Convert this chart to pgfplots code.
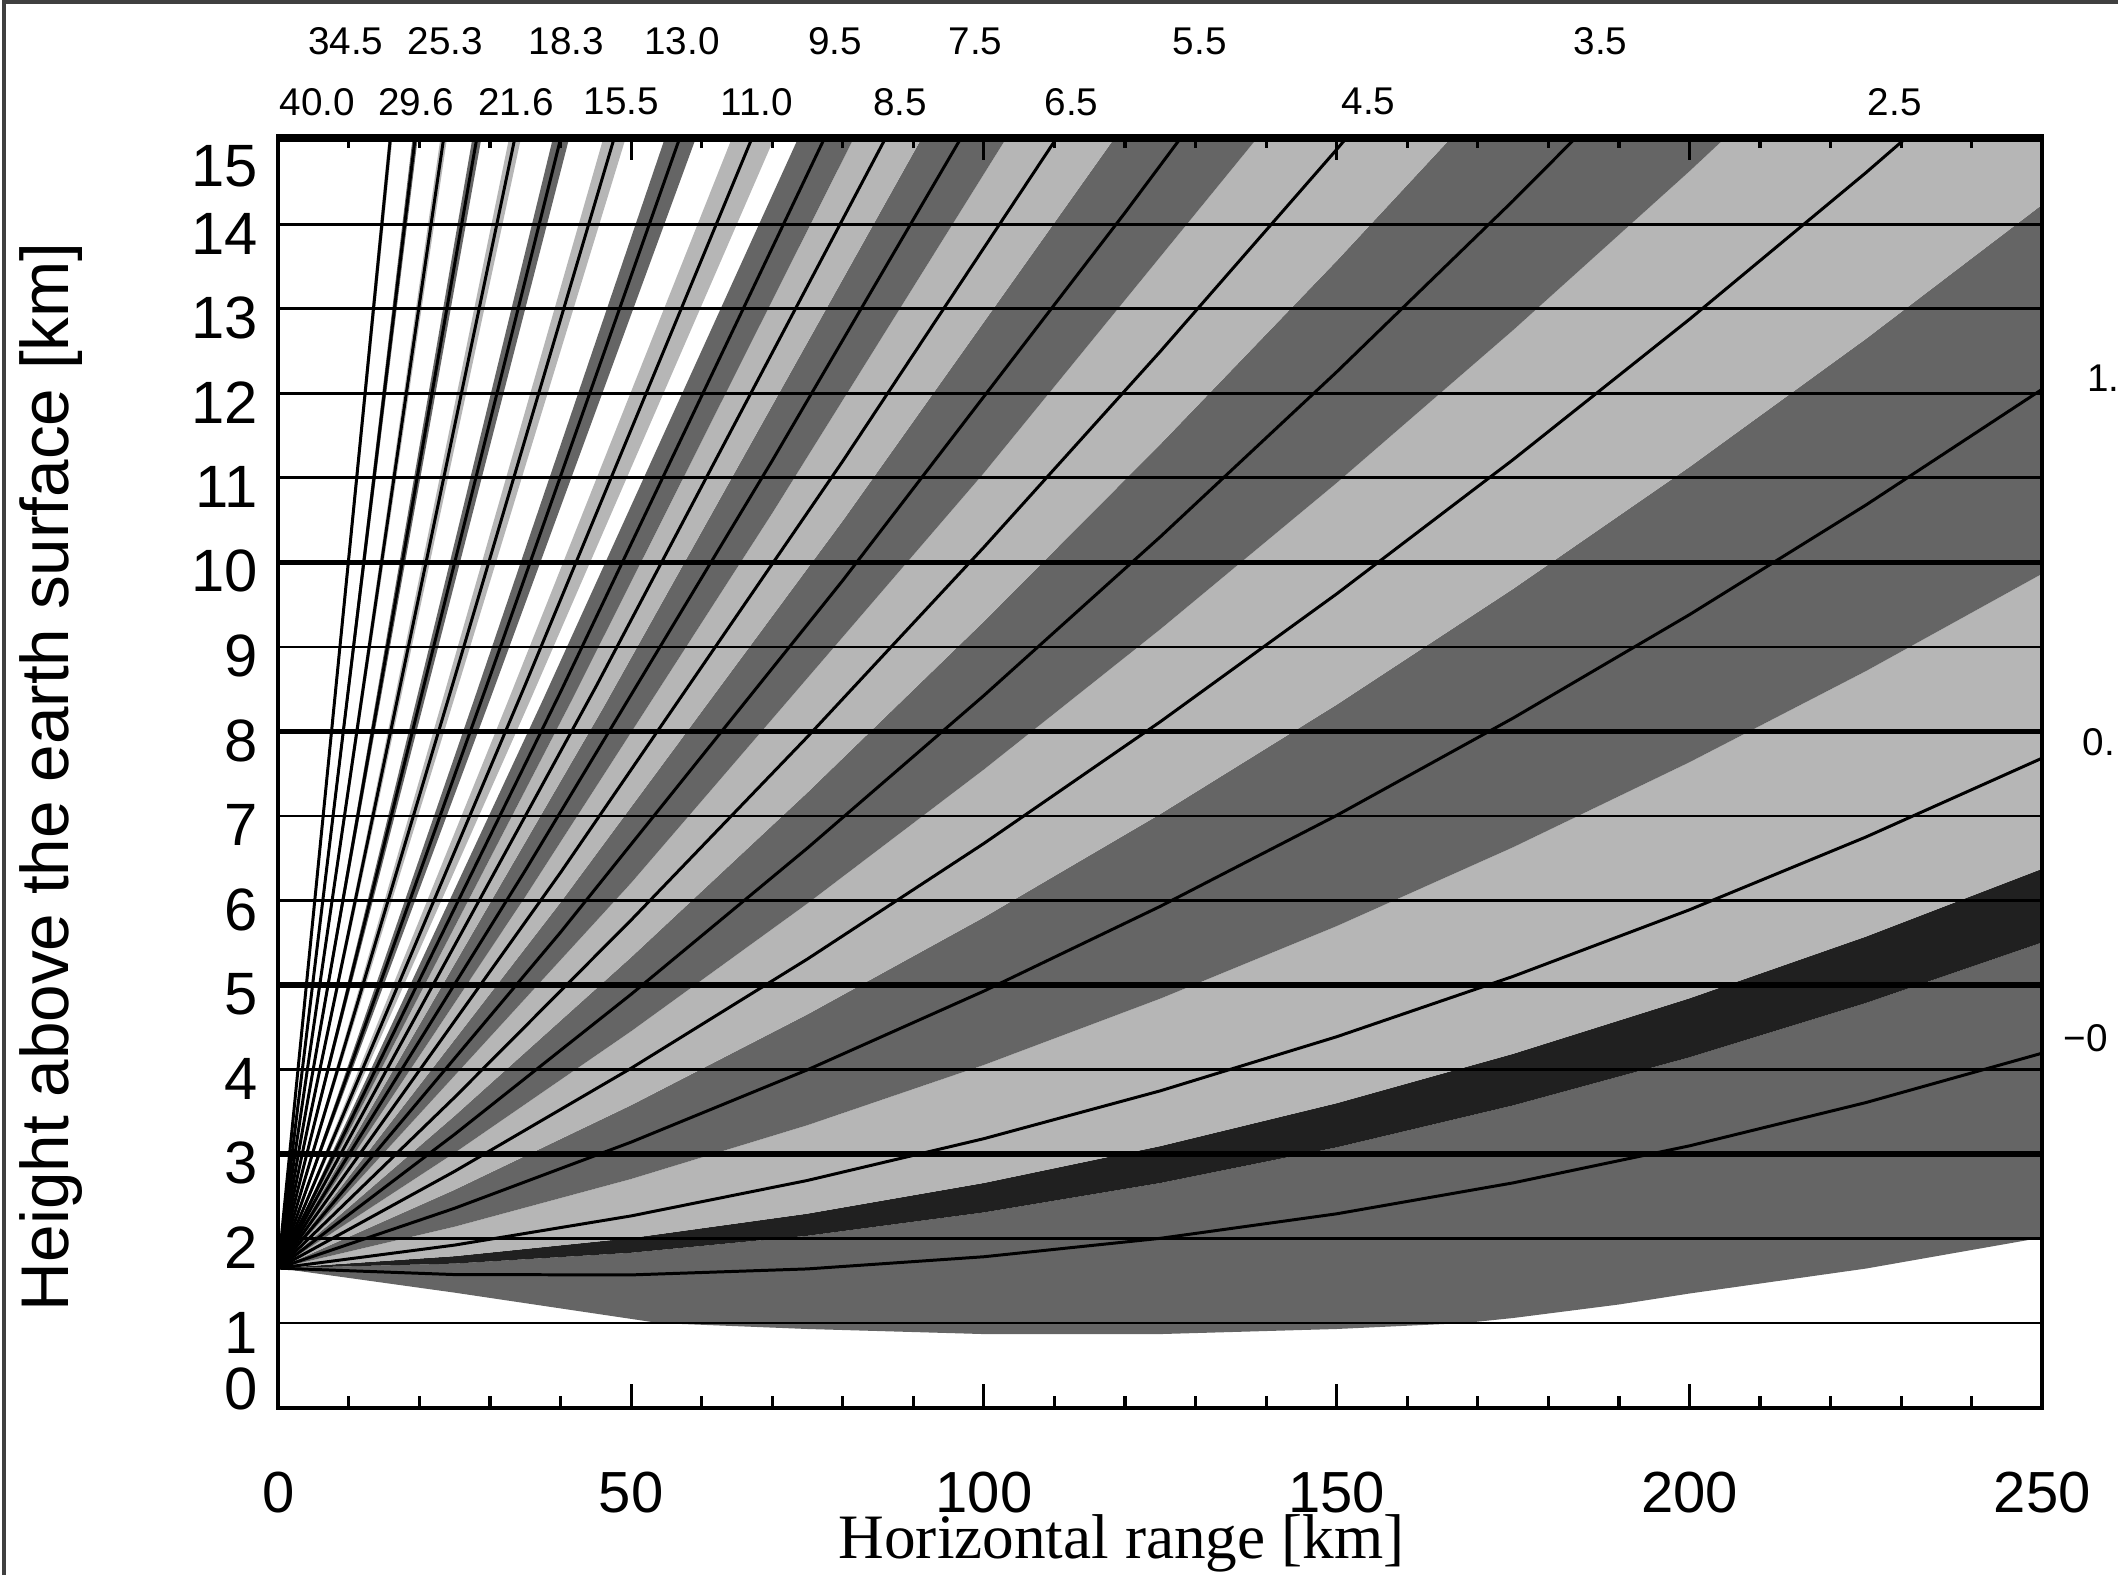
\documentclass[border=0pt]{standalone}
\usepackage{fontspec}
\setmainfont{Liberation Sans}
\newfontfamily\serifx{Liberation Serif}
\usepackage{pgfplots}
\pgfplotsset{compat=1.18}
\definecolor{lg}{HTML}{B6B6B6}
\definecolor{dg}{HTML}{656565}
\definecolor{vd}{HTML}{202020}
\newcommand{\toplab}{\fontsize{11}{11}\selectfont}
\newcommand{\yl}[2]{\raisebox{#1}[\height][\depth]{#2}}
\tikzset{bm/.style={black,solid,line width=0.85pt}}
\begin{document}
\begin{tikzpicture}[x=1cm,y=1cm]
\useasboundingbox (0,0) rectangle (21.18,15.75);
\draw[line width=0.9pt,color=black!75] (0.04,0) -- (0.04,15.73) -- (21.18,15.73);
\begin{axis}[
  at={(2.783cm,1.674cm)}, anchor=south west,
  scale only axis, width=17.64cm, height=12.72cm,
  xmin=0, xmax=250, ymin=0, ymax=15.05,
  clip mode=individual, axis on top,
  /pgf/number format/assume math mode=true,
  xtick={0,50,100,150,200,250}, minor x tick num=4,
  ytick={0,1,...,15},
  yticklabels={\yl{0.19cm}{0},\yl{-0.095cm}{1},\yl{-0.09cm}{2},\yl{-0.09cm}{3},\yl{-0.09cm}{4},\yl{-0.09cm}{5},\yl{-0.09cm}{6},\yl{-0.09cm}{7},\yl{-0.09cm}{8},\yl{-0.09cm}{9},\yl{-0.09cm}{10},\yl{-0.09cm}{11},\yl{-0.09cm}{12},\yl{-0.09cm}{13},\yl{-0.10cm}{14},\yl{-0.26cm}{15}},
  xtick pos=both, ytick pos=left,
  tick align=inside,
  major tick length=0.24cm, minor tick length=0.12cm,
  y tick style={draw=none},
  tick style={black,line width=0.9pt},
  xticklabel pos=bottom,
  xticklabel style={font=\fontsize{16.5}{16.5}\selectfont,yshift=-0.52cm},
  yticklabel style={font=\fontsize{17}{17}\selectfont,xshift=-0.08cm},
  axis line style={black,line width=1.1pt},
  ymajorgrids, grid style={black,line width=0.8pt},
  extra y ticks={3,5,8,10,15}, extra y tick labels={},
  extra y tick style={grid=major,grid style={black,line width=1.5pt},tick style={draw=none}},
  xlabel={\serifx\fontsize{18}{18}\selectfont Horizontal range [km]},
  xlabel style={at={(axis description cs:0.478,-0.107)},anchor=center},
  ylabel={\fontsize{19.2}{19.2}\selectfont Height above the earth surface [km]},
  ylabel style={at={(axis description cs:-0.129,0.496)},anchor=center,rotate=0},
  no markers,
]
% --- beam bands, elevation +/- 0.5 deg
% -0.26 deg, part not overlapped
\addplot[fill=dg,draw=none] coordinates {(0,1.65)(25,1.704)(50,1.832)(75,2.033)(100,2.309)(125,2.657)(150,3.079)(175,3.575)(200,4.144)(225,4.787)(250,5.504)(250,2.012)(225,1.645)(200,1.35)(190,1.22)(175,1.06)(168,1.0)(150,.93)(125,.87)(100,.87)(75,.93)(54,1.0)(25,1.36)(0,1.65)};
% overlap of -0.26 and 0.54
\addplot[fill=vd,draw=none] coordinates {(0,1.65)(25,1.792)(50,2.006)(75,2.295)(100,2.658)(125,3.094)(150,3.602)(175,4.186)(200,4.843)(225,5.573)(250,6.376)(250,5.504)(225,4.787)(200,4.144)(175,3.575)(150,3.079)(125,2.657)(100,2.309)(75,2.033)(50,1.832)(25,1.704)(0,1.65)};
% 0.54
\addplot[fill=lg,draw=none] coordinates {(0,1.65)(25,2.141)(50,2.705)(75,3.342)(100,4.054)(125,4.839)(150,5.697)(175,6.630)(200,7.636)(225,8.714)(250,9.867)(250,6.376)(225,5.573)(200,4.843)(175,4.186)(150,3.602)(125,3.094)(100,2.658)(75,2.295)(50,2.006)(25,1.792)(0,1.65)};
% 1.54
\addplot[fill=dg,draw=none] coordinates {(0,1.65)(25,2.578)(50,3.578)(75,4.653)(100,5.801)(125,7.023)(150,8.317)(175,9.687)(200,11.129)(225,12.645)(250,14.234)(250,9.867)(225,8.714)(200,7.636)(175,6.630)(150,5.697)(125,4.839)(100,4.054)(75,3.342)(50,2.705)(25,2.141)(0,1.65)};
% 2.54
\addplot[fill=lg,draw=none] coordinates {(0,1.65)(25,3.015)(50,4.453)(75,5.965)(100,7.550)(125,9.209)(150,10.941)(175,12.748)(200,14.628)(225,16.58)(250,18.6)(250,14.234)(225,12.645)(200,11.129)(175,9.687)(150,8.317)(125,7.023)(100,5.801)(75,4.653)(50,3.578)(25,2.578)(0,1.65)};
% 3.54
\addplot[fill=dg,draw=none] coordinates {(0,1.65)(25,3.453)(50,5.328)(75,7.278)(100,9.302)(125,11.398)(150,13.568)(175,15.813)(225,16.58)(200,14.628)(175,12.748)(150,10.941)(125,9.209)(100,7.550)(75,5.965)(50,4.453)(25,3.015)(0,1.65)};
% 4.54
\addplot[fill=lg,draw=none] coordinates {(0,1.65)(50,6.207)(100,11.058)(140,15.151)(175,15.813)(150,13.568)(125,11.398)(100,9.302)(75,7.278)(50,5.328)(25,3.453)(0,1.65)};
% 5.54
\addplot[fill=dg,draw=none] coordinates {(0,1.65)(40,5.977)(80,10.493)(120,15.196)(140,15.151)(100,11.058)(50,6.207)(0,1.65)};
% 6.54
\addplot[fill=lg,draw=none] coordinates {(0,1.65)(35,6.044)(70,10.582)(105,15.265)(120,15.196)(80,10.493)(40,5.977)(0,1.65)};
% 7.54
\addplot[fill=dg,draw=none] coordinates {(0,1.65)(46,8.273)(92,15.143)(105,15.265)(70,10.582)(35,6.044)(0,1.65)};
% 8.54
\addplot[fill=lg,draw=none] coordinates {(0,1.65)(41.5,8.354)(83,15.261)(92,15.143)(46,8.273)(0,1.65)};
% 9.54
\addplot[fill=dg,draw=none] coordinates {(0,1.65)(37.5,8.374)(75,15.262)(83,15.261)(41.5,8.354)(0,1.65)};
% 11.04
\addplot[fill=lg,draw=none] coordinates {(0,1.65)(32.5,8.348)(65,15.171)(71,15.158)(35.5,8.329)(0,1.65)};
% 13.04
\addplot[fill=dg,draw=none] coordinates {(0,1.65)(27.75,8.377)(55.5,15.195)(60,15.207)(30,8.376)(0,1.65)};
% 15.54
\addplot[fill=lg,draw=none] coordinates {(0,1.65)(23.5,8.439)(47,15.292)(50,15.23)(25,8.404)(0,1.65)};
% 18.34
\addplot[fill=dg,draw=none] coordinates {(0,1.65)(39.5,15.219)(42,15.271)(0,1.65)};
% 21.64
\addplot[fill=lg,draw=none] coordinates {(0,1.65)(33.5,15.346)(35,15.255)(0,1.65)};
% 25.34
\addplot[fill=dg,draw=none] coordinates {(0,1.65)(28,15.258)(29,15.12)(0,1.65)};
% 29.64
\addplot[fill=lg,draw=none] coordinates {(0,1.65)(23.5,15.324)(24.5,15.346)(0,1.65)};
% 34.54
\addplot[fill=dg,draw=none] coordinates {(0,1.65)(19.5,15.348)(20,15.183)(0,1.65)};
% 40.04
\addplot[fill=lg,draw=none] coordinates {(0,1.65)(16,15.347)(16.5,15.288)(0,1.65)};
% --- beam centre lines
\addplot[bm] coordinates {(0,1.65)(25,1.574)(50,1.570)(75,1.641)(100,1.785)(125,2.003)(150,2.293)(175,2.659)(200,3.097)(225,3.609)(250,4.194)};
\addplot[bm] coordinates {(0,1.65)(25,1.923)(50,2.268)(75,2.688)(100,3.182)(125,3.748)(150,4.388)(175,5.102)(200,5.890)(225,6.751)(250,7.685)};
\addplot[bm] coordinates {(0,1.65)(25,2.359)(50,3.141)(75,3.997)(100,4.928)(125,5.931)(150,7.007)(175,8.158)(200,9.382)(225,10.679)(250,12.050)};
\addplot[bm] coordinates {(0,1.65)(25,2.796)(50,4.015)(75,5.308)(100,6.675)(125,8.115)(150,9.628)(175,11.216)(200,12.877)(225,14.611)(250,16.42)};
\addplot[bm] coordinates {(0,1.65)(25,3.234)(50,4.890)(75,6.621)(100,8.425)(125,10.303)(150,12.254)(175,14.279)(200,16.378)};
\addplot[bm] coordinates {(0,1.65)(25,3.672)(50,5.768)(75,7.937)(100,10.180)(125,12.496)(150,14.886)(175,17.35)};
\addplot[bm] coordinates {(0,1.65)(40,5.624)(80,9.787)(120,14.138)(135,15.818)};
\addplot[bm] coordinates {(0,1.65)(40,6.330)(80,11.199)(115,15.613)};
\addplot[bm] coordinates {(0,1.65)(35,6.355)(70,11.204)(105,16.198)};
\addplot[bm] coordinates {(0,1.65)(45,8.527)(90,15.643)};
\addplot[bm] coordinates {(0,1.65)(40,8.467)(80,15.473)};
\addplot[bm] coordinates {(0,1.65)(35,8.552)(70,15.597)};
\addplot[bm] coordinates {(0,1.65)(30,8.651)(60,15.759)};
\addplot[bm] coordinates {(0,1.65)(25,8.638)(50,15.698)};
\addplot[bm] coordinates {(0,1.65)(42,15.678)};
\addplot[bm] coordinates {(0,1.65)(35,15.609)};
\addplot[bm] coordinates {(0,1.65)(30,15.907)};
\addplot[bm] coordinates {(0,1.65)(25,15.911)};
\addplot[bm] coordinates {(0,1.65)(20,15.439)};
\addplot[bm] coordinates {(0,1.65)(17,15.957)};
% --- elevation labels
\node[font=\toplab] at (axis cs:9.57,16.17) {34.5};
\node[font=\toplab] at (axis cs:23.7,16.17) {25.3};
\node[font=\toplab] at (axis cs:40.8,16.17) {18.3};
\node[font=\toplab] at (axis cs:57.2,16.17) {13.0};
\node[font=\toplab] at (axis cs:78.9,16.17) {9.5};
\node[font=\toplab] at (axis cs:98.8,16.17) {7.5};
\node[font=\toplab] at (axis cs:130.6,16.17) {5.5};
\node[font=\toplab] at (axis cs:187.4,16.17) {3.5};
\node[font=\toplab] at (axis cs:5.55,15.45) {40.0};
\node[font=\toplab] at (axis cs:19.5,15.45) {29.6};
\node[font=\toplab] at (axis cs:33.7,15.45) {21.6};
\node[font=\toplab] at (axis cs:48.6,15.45) {15.5};
\node[font=\toplab] at (axis cs:67.8,15.45) {11.0};
\node[font=\toplab] at (axis cs:88.1,15.45) {8.5};
\node[font=\toplab] at (axis cs:112.4,15.45) {6.5};
\node[font=\toplab] at (axis cs:154.5,15.45) {4.5};
\node[font=\toplab] at (axis cs:229.1,15.45) {2.5};
\node[font=\toplab,anchor=west,inner sep=0pt] at (axis cs:256.3,12.18) {1.};
\node[font=\toplab,anchor=west,inner sep=0pt] at (axis cs:255.6,7.87) {0.};
\node[font=\toplab,anchor=west,inner sep=0pt] at (axis cs:252.9,4.37) {\textminus 0};
\end{axis}
\end{tikzpicture}
\end{document}
